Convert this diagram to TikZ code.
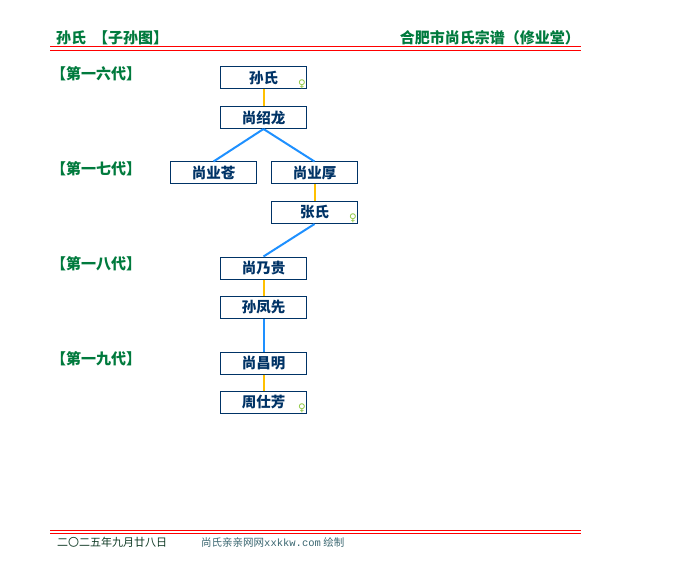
\documentclass[tikz,border=0pt]{standalone}
\usepackage{fontspec}
\setmainfont{Noto Sans CJK SC}
\newfontfamily\symf{DejaVu Sans}
\newfontfamily\monof{Liberation Mono}
\definecolor{titlegreen}{HTML}{007A3D}
\definecolor{boxblue}{HTML}{003366}
\definecolor{linkblue}{HTML}{1E90FF}
\definecolor{linkgold}{HTML}{FFC000}
\definecolor{femgreen}{HTML}{8CC63F}
\definecolor{footdark}{HTML}{0F3A25}
\definecolor{footteal}{HTML}{3A6670}
\begin{document}
\begin{tikzpicture}[x=1pt,y=-1pt,
  person/.style={draw=boxblue,line width=1pt,minimum width=86pt,minimum height=22pt,inner sep=0pt,
    font=\fontsize{14.5}{14.5}\selectfont\bfseries,text=boxblue},
  genlabel/.style={anchor=west,inner sep=0pt,font=\fontsize{15}{15}\selectfont\bfseries,text=titlegreen},
  childlink/.style={draw=linkblue,line width=2pt},
  spouselink/.style={draw=linkgold,line width=2pt},
  femmark/.style={anchor=south east,inner xsep=1pt,inner ysep=0.5pt,font=\symf\fontsize{10.5}{10.5}\selectfont,text=femgreen},
  redline/.style={draw=red,line width=1pt}]
\useasboundingbox (0,0) rectangle (680,580);
% header
\node[anchor=west,inner sep=0pt,font=\fontsize{15}{15}\selectfont\bfseries,text=titlegreen] (title) at (56,38) {孙氏\ \ 【子孙图】};
\node[anchor=east,inner sep=0pt,font=\fontsize{15}{15}\selectfont\bfseries,text=titlegreen] (place) at (580,38) {合肥市尚氏宗谱（修业堂）};
\draw[redline] (50,47) -- (581,47);
\draw[redline] (50,50.5) -- (581,50.5);
% generation labels
\node[genlabel] (g16) at (51,74) {【第一六代】};
\node[genlabel] (g17) at (51,169) {【第一七代】};
\node[genlabel] (g18) at (51,264) {【第一八代】};
\node[genlabel] (g19) at (51,359) {【第一九代】};
% persons
\node[person] (a) at (263.5,78) {孙氏};
\node[person] (b) at (263.5,117.5) {尚绍龙};
\node[person] (c) at (213.5,173) {尚业苍};
\node[person] (d) at (314.5,173) {尚业厚};
\node[person] (e) at (314.5,212.5) {张氏};
\node[person] (f) at (263.5,268) {尚乃贵};
\node[person] (g) at (263.5,307.5) {孙凤先};
\node[person] (h) at (263.5,363) {尚昌明};
\node[person] (i) at (263.5,402.5) {周仕芳};
% female marks
\node[femmark] (fa) at (a.south east) {♀};
\node[femmark] (fe) at (e.south east) {♀};
\node[femmark] (fi) at (i.south east) {♀};
% links
\draw[spouselink] (a.south) -- (b.north);
\draw[childlink] (b.south) -- (c.north);
\draw[childlink] (b.south) -- (d.north);
\draw[spouselink] (d.south) -- (e.north);
\draw[childlink] (e.south) -- (f.north);
\draw[spouselink] (f.south) -- (g.north);
\draw[childlink] (g.south) -- (h.north);
\draw[spouselink] (h.south) -- (i.north);
% footer
\draw[redline] (50,530) -- (581,530);
\draw[redline] (50,533.5) -- (581,533.5);
\node[anchor=west,inner sep=0pt,font=\fontsize{11}{11}\selectfont,text=footdark] (date) at (57,542) {二〇二五年九月廿八日};
\node[anchor=west,inner sep=0pt,font=\fontsize{10.5}{10.5}\selectfont,text=footteal] (site) at (201,542) {尚氏亲亲网网{\monof xxkkw.com} 绘制};
\end{tikzpicture}
\end{document}
